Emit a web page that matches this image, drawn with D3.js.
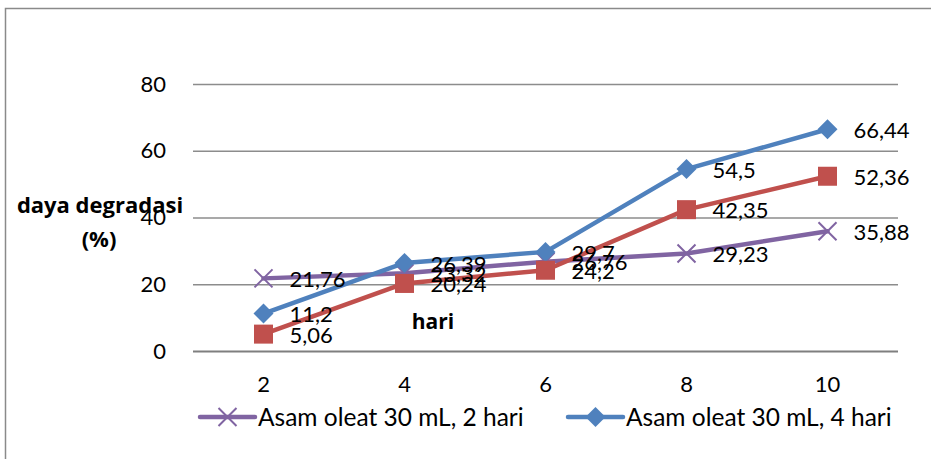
<!DOCTYPE html>
<html>
<head>
<meta charset="utf-8">
<script src="https://cdn.jsdelivr.net/npm/d3@7"></script>
<style>
  html, body { margin: 0; padding: 0; background: #fff; }
  svg { display: block; }
  text { font-family: Lato, "Open Sans", sans-serif; fill: #000; }
  text.axis-title { font-family: "Open Sans", sans-serif; font-weight: bold; }
</style>
</head>
<body>
<svg id="chart" width="931" height="459"></svg>
<script>
// Days of incubation (x categories)
const categories = ["2", "4", "6", "8", "10"];
// Degradation (%) per series
const series2Hari = [21.76, 23.32, 26.76, 29.23, 35.88];
const series4Hari = [11.2, 26.39, 29.7, 54.5, 66.44];
const series6Hari = [5.06, 20.24, 24.2, 42.35, 52.36];
const seriesNames = ["Asam oleat 30 mL, 2 hari", "Asam oleat 30 mL, 4 hari", "Asam oleat 30 mL, 6 hari"];
const yTicks = [0, 20, 40, 60, 80];

const seriesList = [
  { name: seriesNames[0], values: series2Hari, color: "#8064A2", marker: "x" },
  { name: seriesNames[1], values: series4Hari, color: "#4F81BD", marker: "diamond" },
  { name: seriesNames[2], values: series6Hari, color: "#C0504D", marker: "square" }
];

const svg = d3.select("#chart");
const plot = { left: 193, right: 898, top: 84, bottom: 351 };

const x = d3.scaleBand().domain(categories).range([plot.left, plot.right]);
const y = d3.scaleLinear().domain([0, 80]).range([plot.bottom, plot.top]);
const cx = c => x(c) + x.bandwidth() / 2;

// Outer frame
svg.append("path")
  .attr("d", "M5.5,470 L5.5,8.5 L940,8.5")
  .attr("fill", "none").attr("stroke", "#8a8a8a").attr("stroke-width", 1.5);

// Horizontal gridlines and y tick labels
const yAxis = d3.axisLeft(y).tickValues(yTicks).tickSize(-(plot.right - plot.left)).tickPadding(27);
const gy = svg.append("g").attr("transform", `translate(${plot.left},0)`).call(yAxis);
gy.select(".domain").remove();
gy.selectAll(".tick line").attr("stroke", d => d === 0 ? "#7f7f7f" : "#8c8c8c").attr("stroke-width", d => d === 0 ? 2 : 1.5);
gy.selectAll(".tick text").attr("font-size", 22).attr("fill", "#000");

// X tick labels
const xAxis = d3.axisBottom(x).tickSize(0).tickPadding(25);
const gx = svg.append("g").attr("transform", `translate(0,${plot.bottom})`).call(xAxis);
gx.select(".domain").remove();
gx.selectAll(".tick text").attr("font-size", 22).attr("fill", "#000");

// Axis titles
const yTitle = svg.append("text").attr("class", "axis-title").attr("font-size", 22).attr("text-anchor", "middle");
yTitle.append("tspan").attr("x", 100).attr("y", 213).text("daya degradasi");
yTitle.append("tspan").attr("x", 99).attr("y", 247).text("(%)");
svg.append("text").attr("class", "axis-title").attr("x", 433).attr("y", 329).attr("font-size", 21)
  .attr("text-anchor", "middle").text("hari");

const line = d3.line().x((d, i) => cx(categories[i])).y(d => y(d));

function drawMarker(g, type, color, px, py) {
  if (type === "diamond") {
    g.append("path").attr("d", `M${px},${py - 10} L${px + 10},${py} L${px},${py + 10} L${px - 10},${py} Z`).attr("fill", color);
  } else if (type === "square") {
    g.append("rect").attr("x", px - 9.5).attr("y", py - 9.5).attr("width", 19).attr("height", 19).attr("fill", color);
  } else {
    g.append("path").attr("d", `M${px - 9},${py - 9} L${px + 9},${py + 9} M${px - 9},${py + 9} L${px + 9},${py - 9}`)
      .attr("stroke", color).attr("stroke-width", 2).attr("fill", "none");
  }
}

// Series lines and markers
seriesList.forEach(s => {
  const g = svg.append("g");
  g.append("path").datum(s.values).attr("d", line).attr("fill", "none")
    .attr("stroke", s.color).attr("stroke-width", 4.5).attr("stroke-linejoin", "round").attr("stroke-linecap", "round");
  s.values.forEach((v, i) => drawMarker(g, s.marker, s.color, cx(categories[i]), y(v)));
});

// Data labels
const fmt = v => String(v).replace(".", ",");
seriesList.forEach(s => {
  s.values.forEach((v, i) => {
    svg.append("text").attr("x", cx(categories[i]) + 26).attr("y", y(v))
      .attr("dy", "0.4em").attr("font-size", 22).text(fmt(v));
  });
});

// Legend (first two entries fit within the frame)
const legendItems = [
  { s: seriesList[0], x0: 200 },
  { s: seriesList[1], x0: 568 }
];
legendItems.forEach(({ s, x0 }) => {
  const g = svg.append("g");
  g.append("line").attr("x1", x0).attr("x2", x0 + 55).attr("y1", 417).attr("y2", 417)
    .attr("stroke", s.color).attr("stroke-width", 4.5).attr("stroke-linecap", "round");
  drawMarker(g, s.marker, s.color, x0 + 27.5, 417);
  g.append("text").attr("x", x0 + 58).attr("y", 417).attr("dy", "0.36em").attr("font-size", 24.5).text(s.name);
});
</script>
</body>
</html>
